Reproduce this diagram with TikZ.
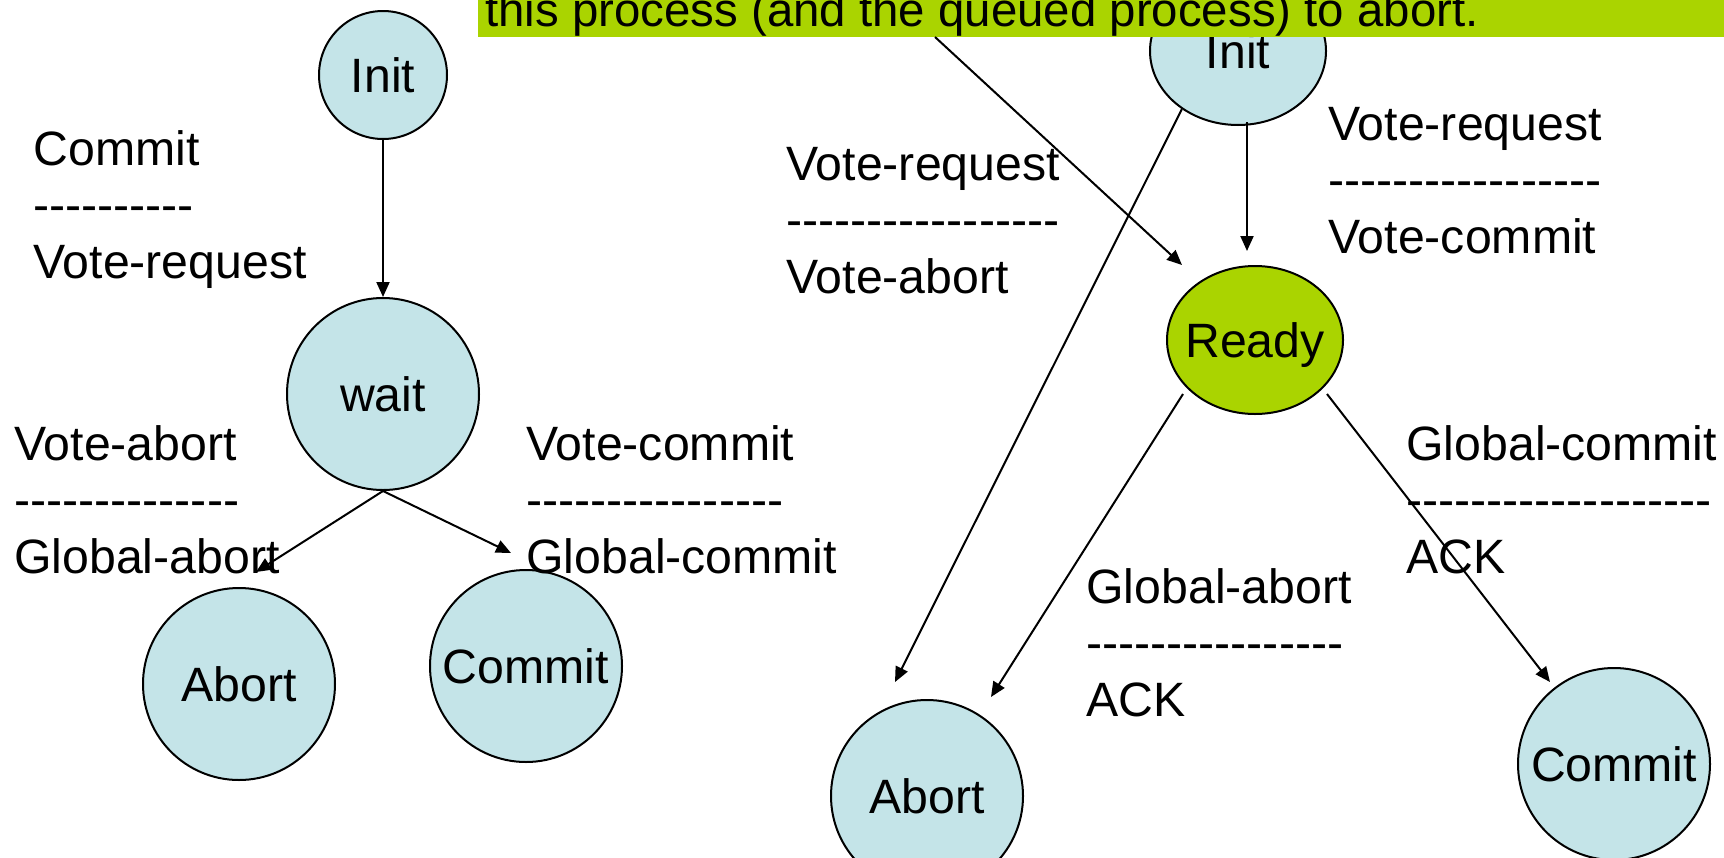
\documentclass[tikz,border=0pt]{standalone}
\usepackage{fontspec}
\usetikzlibrary{arrows.meta,shapes.geometric}
\newfontfamily\labfont{Liberation Sans}
\definecolor{statefill}{RGB}{196,228,232}
\definecolor{limefill}{RGB}{170,212,0}
% a row of n plain hyphens
\newcommand\hyphenrow[1]{\foreach \k in {1,...,#1}{-\kern0pt}}
% a three-line transition label: event, rule, action
\newcommand\translabel[6]{%
  \node[lbl] (#1-a) at (#2,#3) {#4};
  \node[lbl] (#1-b) at (#2,#3+56.5) {\hyphenrow{#5}};
  \node[lbl] (#1-c) at (#2,#3+113) {#6};}
\begin{document}
\begin{tikzpicture}[x=0.5pt,y=-0.5pt,
  every node/.style={font=\labfont\fontsize{24.1}{28}\selectfont},
  state/.style={circle,draw=black,line width=1pt,fill=statefill,
    inner sep=0pt,minimum size=96pt,text depth=0pt},
  oval/.style={ellipse,draw=black,line width=1pt,inner sep=0pt,text depth=0pt},
  lbl/.style={anchor=base west,inner sep=0pt},
  conn/.style={line width=1pt,-{Triangle[length=7.5pt,width=6.5pt]}}]
\useasboundingbox (0,0) rectangle (1724,857);
\clip (0,0) rectangle (1724,857);

% ---- coordinator ----
\node[state,minimum size=64pt] (linit) at (383,75) {Init};
\node[state] (wait) at (383,394) {wait};
\node[state] (labort) at (239,684) {Abort};
\node[state] (lcommit) at (526,666) {Commit};

\coordinate (labort-tip) at (256,572);
\coordinate (lcommit-tip) at (511,553);
\draw[conn] (linit.south) -- (wait.north);
\draw[conn] (wait.south) -- (labort-tip);
\draw[conn] (wait.south) -- (lcommit-tip);

\translabel{lc}{33}{165}{Commit}{10}{Vote-request}
\translabel{lva}{14}{460}{Vote-abort}{14}{Global-abort}
\translabel{lvc}{526}{460}{Vote-commit}{16}{Global-commit}

% ---- participant ----
\node[oval,fill=statefill,minimum width=88pt,minimum height=74pt] (rinit) at (1238,51) {\makebox[0pt]{Init}};
\node[oval,fill=limefill,minimum width=88pt,minimum height=74pt] (ready) at (1255,340) {\makebox[0pt]{Ready}};
\node[state] (rabort) at (927,796) {Abort};
\node[state] (rcommit) at (1614,764) {Commit};

\coordinate (rinit-foot) at (1247,122);
\coordinate (ready-tip) at (1247,251);
\coordinate (rabort-tip1) at (895,682);
\coordinate (ready-left) at (1183,394);
\coordinate (rabort-tip2) at (991,697);
\coordinate (ready-right) at (1327,394);
\coordinate (rcommit-tip) at (1550,682);
\draw[conn] (rinit-foot) -- (ready-tip);
\draw[conn] (rinit.226.5) -- (rabort-tip1);
\draw[conn] (ready-left) -- (rabort-tip2);
\draw[conn] (ready-right) -- (rcommit-tip);

\translabel{rvr}{786}{180}{Vote-request}{17}{Vote-abort}
\translabel{rvc}{1328}{140}{Vote-request}{17}{Vote-commit}
\translabel{rga}{1086}{603}{Global-abort}{16}{ACK}
\translabel{rgc}{1406}{460}{Global-commit}{19}{ACK}

% ---- note box at the top ----
\node[fill=limefill,inner sep=0pt,anchor=south west,
  minimum width=640pt,minimum height=50pt] (banner) at (478,37) {};
\node[lbl,font=\labfont\fontsize{23.7}{28}\selectfont] (banner-text) at (485,26)
  {this process (and the queued process) to abort.};
\coordinate (banner-foot) at (935,37);
\coordinate (ready-corner) at (1182,265);
\draw[conn] (banner-foot) -- (ready-corner);
\end{tikzpicture}
\end{document}
